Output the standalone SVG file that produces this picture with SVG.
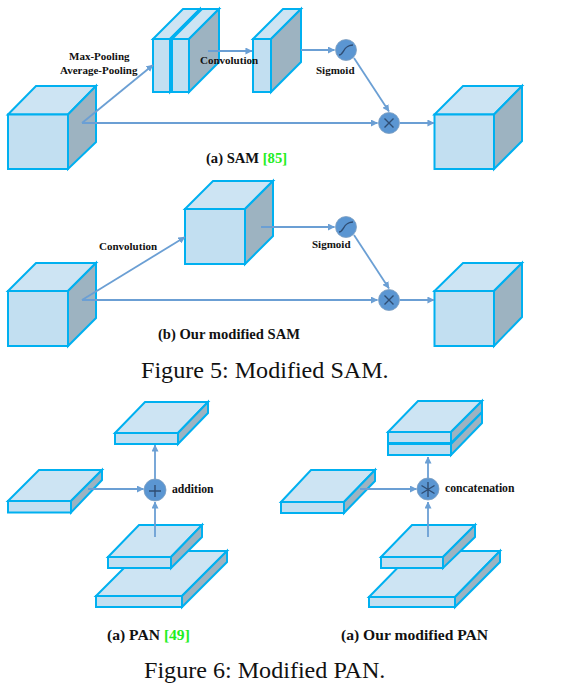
<svg xmlns="http://www.w3.org/2000/svg" width="567" height="684" viewBox="0 0 567 684">
<style>
.f{fill:#c2dff1;stroke:#00b0f0;stroke-width:2;stroke-linejoin:miter}
.t{fill:#cde4f3;stroke:#00b0f0;stroke-width:2}
.s{fill:#9db3c1;stroke:#00b0f0;stroke-width:2}
.c{fill:none;stroke:#6b9fd4;stroke-width:1.800;marker-end:url(#a)}
.o{fill:#5b96d2;stroke:#7f9fc0;stroke-width:.8}
.g{fill:none;stroke:#2f4d73;stroke-width:1.400}
text{font-family:"Liberation Serif","Times New Roman",serif;fill:#111}
.l{font-size:11px;font-weight:bold}
.m{font-size:11.700px;font-weight:bold}
.h{font-size:14.600px;font-weight:bold}
.k{font-size:15.600px;font-weight:bold}
.p{font-size:24.100px}
.r{fill:#22ee22}
</style>
<defs>
<marker id="a" viewBox="0 0 8 8" refX="7.500" refY="4" markerWidth="7" markerHeight="7" markerUnits="userSpaceOnUse" orient="auto"><path d="M0 0L8 4L0 8Z" fill="#6b9fd4"/></marker>
</defs>
<g id="sam-input">
<polygon class="t" points="8,114.500 36,86 96,86 68,114.500"/><polygon class="s" points="68,114.500 96,86 96,142 68,169"/><rect class="f" x="8" y="114.500" width="60" height="54.500"/>
</g>
<g id="sam-pool">
<polygon class="t" points="153,39 183,9 200,9 170,39"/><polygon class="s" points="170,39 200,9 200,62 170,92"/><rect class="f" x="153" y="39" width="17" height="53"/>
<polygon class="t" points="172,39 202,9 219,9 189,39"/><polygon class="s" points="189,39 219,9 219,62 189,92"/><rect class="f" x="172" y="39" width="17" height="53"/>
</g>
<g id="sam-conv">
<polygon class="t" points="253,39 283,9 301,9 271,39"/><polygon class="s" points="271,39 301,9 301,62 271,92"/><rect class="f" x="253" y="39" width="18" height="53"/>
</g>
<g id="sam-output">
<polygon class="t" points="434.500,114.500 463,86 522,86 494,114.500"/><polygon class="s" points="494,114.500 522,86 522,141 494,169"/><rect class="f" x="434.500" y="114.500" width="59.500" height="54.500"/>
</g>
<g id="msam-input">
<polygon class="t" points="8,291 36,263 96,263 68,291"/><polygon class="s" points="68,291 96,263 96,318 68,346"/><rect class="f" x="8" y="291" width="60" height="55"/>
</g>
<g id="msam-conv">
<polygon class="t" points="185,209 213,181 273,181 245,209"/><polygon class="s" points="245,209 273,181 273,236 245,264"/><rect class="f" x="185" y="209" width="60" height="55"/>
</g>
<g id="msam-output">
<polygon class="t" points="434.500,291 463,263 522,263 494,291"/><polygon class="s" points="494,291 522,263 522,317 494,346"/><rect class="f" x="434.500" y="291" width="59.500" height="55"/>
</g>
<g id="pan-top">
<polygon class="t" points="115,433 145,402 208,402 178,433"/><polygon class="s" points="178,433 208,402 208,413 178,444"/><rect class="f" x="115" y="433" width="63" height="11"/>
</g>
<g id="pan-left">
<polygon class="t" points="8,501 39,470 102,470 71,501"/><polygon class="s" points="71,501 102,470 102,480 71,512.500"/><rect class="f" x="8" y="501" width="63" height="11.500"/>
</g>
<g id="pan-large">
<polygon class="t" points="96,596 141,551 227,551 182,596"/><polygon class="s" points="182,596 227,551 227,562 182,607"/><rect class="f" x="96" y="596" width="86" height="11"/>
</g>
<g id="pan-small">
<polygon class="t" points="108,557 139,525 202,525 171,557"/><polygon class="s" points="171,557 202,525 202,537 171,568"/><rect class="f" x="108" y="557" width="63" height="11"/>
</g>
<g id="mpan-top">
<polygon class="s" points="451,444 482,412 482,423 451,455"/><rect class="f" x="388" y="444" width="63" height="11"/>
<polygon class="t" points="388,432 418,401 482,401 451,432"/><polygon class="s" points="451,432 482,401 482,412 451,443"/><rect class="f" x="388" y="432" width="63" height="11"/>
</g>
<g id="mpan-left">
<polygon class="t" points="281,502 311,470 375,470 344,502"/><polygon class="s" points="344,502 375,470 375,481 344,513"/><rect class="f" x="281" y="502" width="63" height="11"/>
</g>
<g id="mpan-large">
<polygon class="t" points="369,597 414,551 500,551 455,597"/><polygon class="s" points="455,597 500,551 500,562 455,607"/><rect class="f" x="369" y="597" width="86" height="10"/>
</g>
<g id="mpan-small">
<polygon class="t" points="381,557 412,525 475,525 443,557"/><polygon class="s" points="443,557 475,525 475,537 443,568"/><rect class="f" x="381" y="557" width="62" height="11"/>
</g>
<g id="connectors">
<path class="c" d="M82 123L153 65"/>
<path class="c" d="M208 51L252 51"/>
<path class="c" d="M301 50L334.500 50"/>
<path class="c" d="M354 58L389 111.500"/>
<path class="c" d="M82 123L377.500 123"/>
<path class="c" d="M400 123L434 123"/>
<path class="c" d="M82 300L185 237"/>
<path class="c" d="M261 227L334.500 227"/>
<path class="c" d="M354 235L389 288.500"/>
<path class="c" d="M82 300L377.500 300"/>
<path class="c" d="M400 300L434 300"/>
<path class="c" d="M155 537L155 502"/>
<path class="c" d="M155 479L155 445"/>
<path class="c" d="M88 489L143.500 489"/>
<path class="c" d="M428 537L428 502"/>
<path class="c" d="M428 478L428 457"/>
<path class="c" d="M360 489L416.500 489"/>
</g>
<g id="sam-sigmoid"><circle class="o" cx="346" cy="50" r="10.500"/><path class="g" d="M339 55C344 55 343 45 353 45"/></g>
<g id="sam-multiply"><circle class="o" cx="389" cy="123" r="10.500"/><path class="g" d="M384.500 118.500L393.500 127.500M393.500 118.500L384.500 127.500"/></g>
<g id="msam-sigmoid"><circle class="o" cx="346" cy="227" r="10.500"/><path class="g" d="M339 232C344 232 343 222 353 222"/></g>
<g id="msam-multiply"><circle class="o" cx="389" cy="300" r="10.500"/><path class="g" d="M384.500 295.500L393.500 304.500M393.500 295.500L384.500 304.500"/></g>
<g id="pan-add"><circle class="o" cx="155" cy="490" r="11"/><path class="g" d="M149 491H161M155 485V497"/></g>
<g id="mpan-concat"><circle class="o" cx="428" cy="489" r="11"/><path class="g" d="M428 482V497M421.500 485.500L434.500 493.500M434.500 485.500L421.500 493.500"/></g>
<g id="labels">
<text class="l" x="69" y="60">Max-Pooling</text>
<text class="l" x="60" y="74">Average-Pooling</text>
<text class="l" x="200" y="64">Convolution</text>
<text class="l" x="316" y="74">Sigmoid</text>
<text class="h" x="206" y="163">(a) SAM <tspan class="r">[85]</tspan></text>
<text class="l" x="99" y="250">Convolution</text>
<text class="l" x="312" y="248">Sigmoid</text>
<text class="h" x="158" y="339">(b) Our modified SAM</text>
<text class="p" x="141" y="378">Figure 5: Modified SAM.</text>
<text class="m" x="172" y="493">addition</text>
<text class="m" x="445" y="492">concatenation</text>
<text class="k" x="107" y="640">(a) PAN <tspan class="r">[49]</tspan></text>
<text class="k" x="341" y="640">(a) Our modified PAN</text>
<text class="p" x="144" y="678">Figure 6: Modified PAN.</text>
</g>
</svg>
